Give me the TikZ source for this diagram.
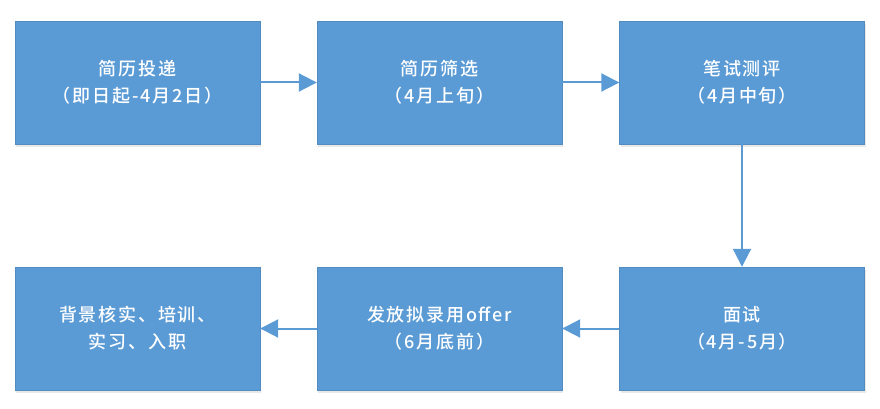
\documentclass[tikz,border=0pt]{standalone}
\usepackage{fontspec}
\newfontfamily\cjk[LetterSpace=10]{Noto Sans CJK SC Medium}
\usetikzlibrary{arrows.meta,shadows}
\definecolor{boxblue}{HTML}{5B9BD5}
\begin{document}
\begin{tikzpicture}[x=1pt,y=-1pt,
  stage/.style={fill=boxblue, draw=boxblue!90!black, line width=0.4pt, minimum width=245pt, minimum height=123pt,
     inner sep=0pt, text=white, align=center,
     font=\cjk\fontsize{18}{27}\selectfont,
     drop shadow={opacity=0.18, shadow xshift=1pt, shadow yshift=-3pt}},
  flow/.style={draw=boxblue, line width=2pt, -{Triangle[length=18pt,width=18pt]}}]
\useasboundingbox (0,0) rectangle (880,409);
\node[stage] (s1) at (137.5,82.5) {简历投递\\（即日起-4月2日）};
\node[stage] (s2) at (439.5,82.5) {简历筛选\\（4月上旬）};
\node[stage] (s3) at (742,82.5) {笔试测评\\（4月中旬）};
\node[stage] (s6) at (742,328.5) {面试\\（4月-5月）};
\node[stage] (s5) at (439.5,328.5) {发放拟录用offer\\（6月底前）};
\node[stage] (s4) at (137.5,328.5) {背景核实、培训、\\实习、入职};
\draw[flow] (s1) -- (s2);
\draw[flow] (s2) -- (s3);
\draw[flow] (s3) -- (s6);
\draw[flow] (s6) -- (s5);
\draw[flow] (s5) -- (s4);
\end{tikzpicture}
\end{document}
